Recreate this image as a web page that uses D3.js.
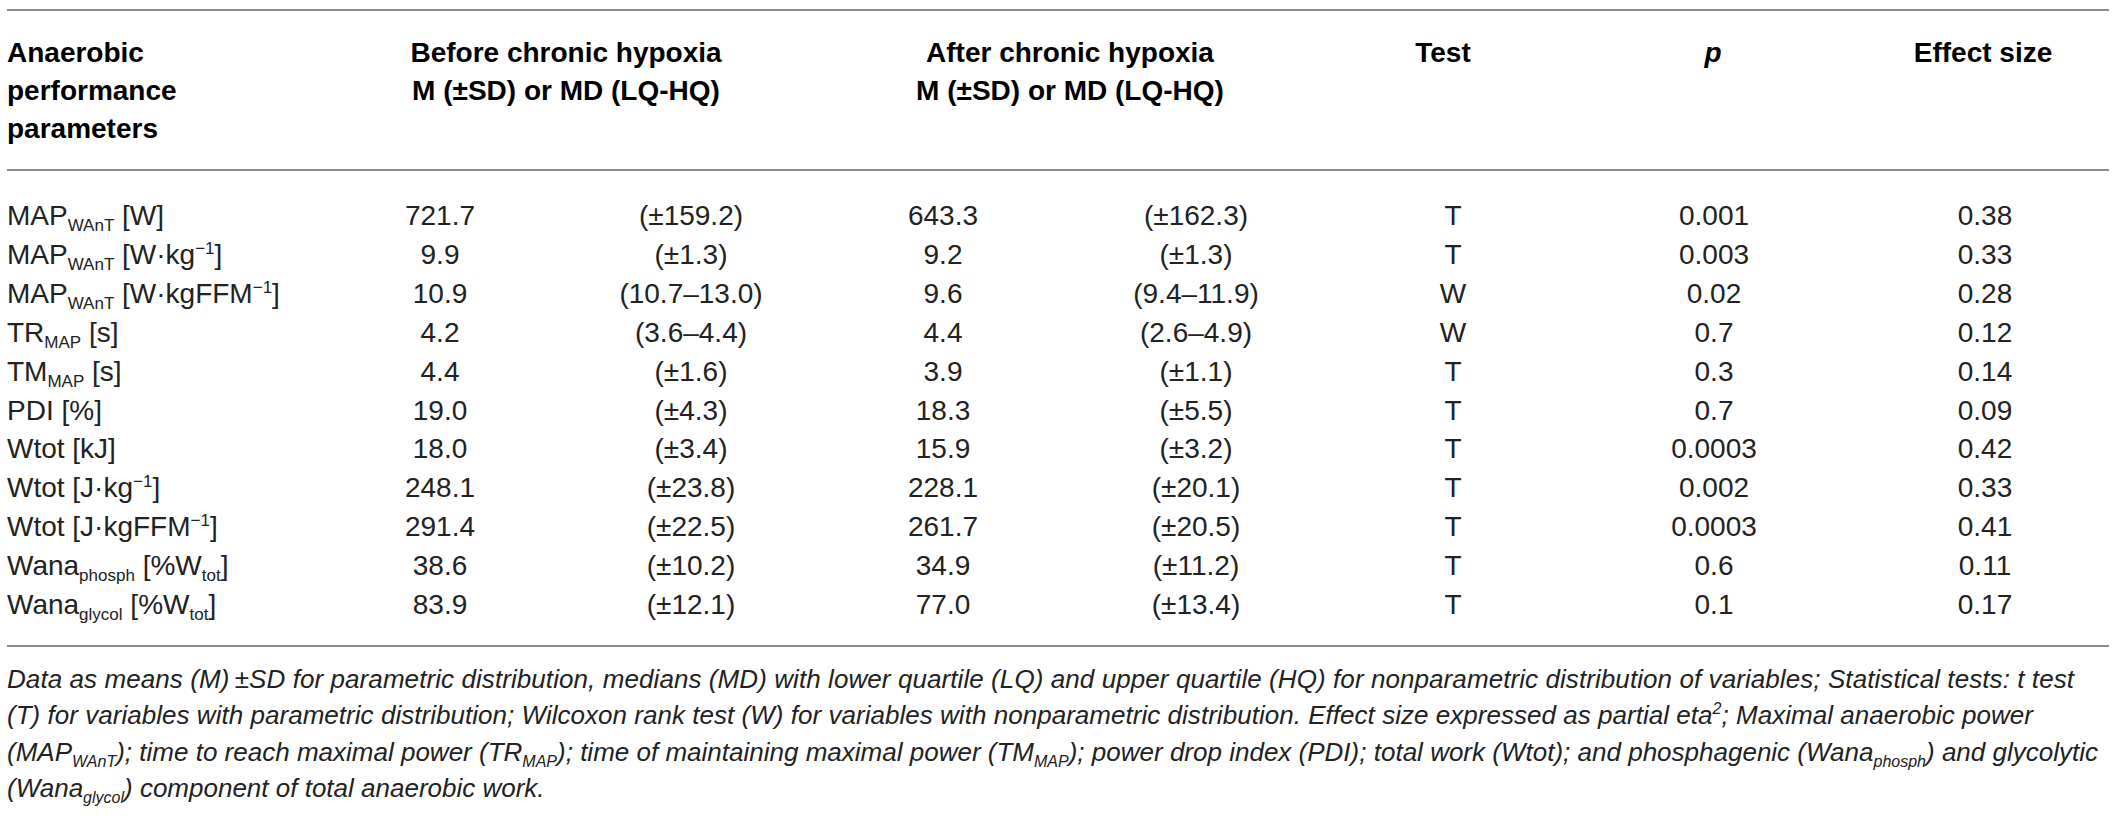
<!DOCTYPE html>
<html>
<head>
<meta charset="UTF-8">
<title>Anaerobic performance</title>
<script src="https://cdn.jsdelivr.net/npm/d3@7/dist/d3.min.js"></script>
<style type="text/css">
body {
 margin: 0;
 background: #fff;
}
svg text {
 font-family: "Liberation Sans", Arial, Helvetica, sans-serif;
 fill: #222;
}
.head text {
 font-weight: bold;
 font-size: 28px;
 fill: #000;
}
.cell text {
 font-size: 28px;
}
.note text {
 font-size: 26px;
 font-style: italic;
}
.rule {
 stroke: #8c8c8c;
 stroke-width: 2;
}
</style>
</head>
<body>
<div class="scalingContainer"></div>
<script>
// table values
var params = ["MAP_{WAnT} [W]", "MAP_{WAnT} [W·kg^{−1}]", "MAP_{WAnT} [W·kgFFM^{−1}]",
  "TR_{MAP} [s]", "TM_{MAP} [s]", "PDI [%]", "Wtot [kJ]", "Wtot [J·kg^{−1}]",
  "Wtot [J·kgFFM^{−1}]", "Wana_{phosph} [%W_{tot}]", "Wana_{glycol} [%W_{tot}]"];
var beforeCentral = [721.7, 9.9, 10.9, 4.2, 4.4, 19.0, 18.0, 248.1, 291.4, 38.6, 83.9];
var beforeSpread = ["(±159.2)", "(±1.3)", "(10.7–13.0)", "(3.6–4.4)", "(±1.6)", "(±4.3)",
  "(±3.4)", "(±23.8)", "(±22.5)", "(±10.2)", "(±12.1)"];
var afterCentral = [643.3, 9.2, 9.6, 4.4, 3.9, 18.3, 15.9, 228.1, 261.7, 34.9, 77.0];
var afterSpread = ["(±162.3)", "(±1.3)", "(9.4–11.9)", "(2.6–4.9)", "(±1.1)", "(±5.5)",
  "(±3.2)", "(±20.1)", "(±20.5)", "(±11.2)", "(±13.4)"];
var tests = ["T", "T", "W", "W", "T", "T", "T", "T", "T", "T", "T"];
var pValues = ["0.001", "0.003", "0.02", "0.7", "0.3", "0.7", "0.0003", "0.002", "0.0003", "0.6", "0.1"];
var effectSizes = ["0.38", "0.33", "0.28", "0.12", "0.14", "0.09", "0.42", "0.33", "0.41", "0.11", "0.17"];

var headLines = [
  ["Anaerobic", "performance", "parameters"],
  ["Before chronic hypoxia", "M (±SD) or MD (LQ-HQ)"],
  ["After chronic hypoxia", "M (±SD) or MD (LQ-HQ)"],
  ["Test"], ["p"], ["Effect size"]
];
var notes = [
  "Data as means (M)\u2009±SD for parametric distribution, medians (MD) with lower quartile (LQ) and upper quartile (HQ) for nonparametric distribution of variables; Statistical tests: t test",
  "(T) for variables with parametric distribution; Wilcoxon rank test (W) for variables with nonparametric distribution. Effect size expressed as partial eta^{2}; Maximal anaerobic power",
  "(MAP_{WAnT}); time to reach maximal power (TR_{MAP}); time of maintaining maximal power (TM_{MAP}); power drop index (PDI); total work (Wtot); and phosphagenic (Wana_{phosph}) and glycolytic",
  "(Wana_{glycol}) component of total anaerobic work."
];

var width = 2121, height = 816;
var fmt = d3.format(".1f");

var svg = d3.select(".scalingContainer")
  .append("svg")
  .attr("width", width)
  .attr("height", height);

// rows and columns
var y = d3.scalePoint()
  .domain(d3.range(params.length))
  .range([225, 614]);

var cols = ["bM", "bS", "aM", "aS", "test", "p", "es"];
var x = d3.scaleOrdinal()
  .domain(cols)
  .range([440, 691, 943, 1196, 1453, 1714, 1985]);

// writes "a_{sub}" and "a^{sup}" as tspans
function rich(sel, str, small) {
  str.split(/(_\{[^}]*\}|\^\{[^}]*\})/).forEach(function (part) {
    if (!part) return;
    var t = sel.append("tspan");
    if (part[0] == "_") {
      t.attr("font-size", small).attr("baseline-shift", "-6").text(part.slice(2, -1));
    } else if (part[0] == "^") {
      t.attr("font-size", small).attr("baseline-shift", "10").text(part.slice(2, -1));
    } else {
      t.text(part);
    }
  });
}

// rules
svg.selectAll(".rule")
  .data([10, 170, 646])
  .enter()
  .append("line")
  .attr("class", "rule")
  .attr("x1", 7)
  .attr("x2", 2109)
  .attr("y1", function (d) { return d; })
  .attr("y2", function (d) { return d; });

// header
var head = svg.append("g").attr("class", "head");
var headX = [7, 566, 1070, 1443, 1713, 1983];
var lineY = d3.scalePoint().domain([0, 1, 2]).range([62, 138]);
headLines.forEach(function (lines, i) {
  lines.forEach(function (s, j) {
    head.append("text")
      .attr("x", headX[i])
      .attr("y", lineY(j))
      .attr("text-anchor", i == 0 ? "start" : "middle")
      .attr("font-style", s == "p" ? "italic" : null)
      .text(s);
  });
});

// body cells
var rows = svg.append("g").attr("class", "cell")
  .selectAll("g")
  .data(d3.range(params.length))
  .enter()
  .append("g")
  .attr("transform", function (d) { return "translate(0," + y(d) + ")"; });

rows.append("text")
  .attr("x", 7)
  .each(function (d) { rich(d3.select(this), params[d], "17px"); });

var cellText = {
  bM: function (d) { return fmt(beforeCentral[d]); },
  bS: function (d) { return beforeSpread[d]; },
  aM: function (d) { return fmt(afterCentral[d]); },
  aS: function (d) { return afterSpread[d]; },
  test: function (d) { return tests[d]; },
  p: function (d) { return pValues[d]; },
  es: function (d) { return effectSizes[d]; }
};
cols.forEach(function (c) {
  rows.append("text")
    .attr("x", x(c))
    .attr("text-anchor", "middle")
    .text(cellText[c]);
});

// footnote
var noteY = d3.scalePoint().domain(d3.range(notes.length)).range([688, 797]);
var noteLen = [2067, 2026, 2091, null];
var note = svg.append("g").attr("class", "note");
notes.forEach(function (s, i) {
  var t = note.append("text")
    .attr("x", 7)
    .attr("y", noteY(i));
  rich(t, s, "16px");
  if (noteLen[i]) t.attr("textLength", noteLen[i]).attr("lengthAdjust", "spacing");
});
</script>
</body>
</html>
